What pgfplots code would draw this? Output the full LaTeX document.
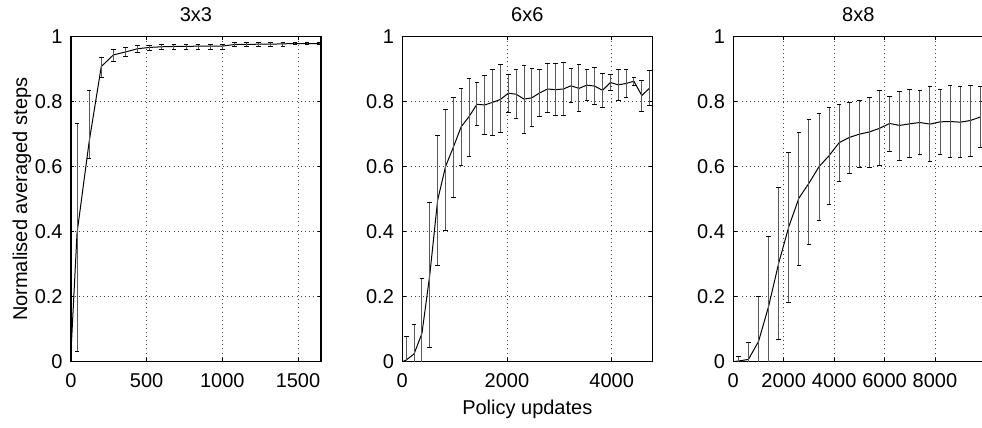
\documentclass[border=0pt]{standalone}
\usepackage{fontspec}
\setmainfont{Liberation Sans}
\usepackage{pgfplots}
\pgfplotsset{compat=1.18}
\usepackage{pgfplotstable}

% Mean curve (y) with the lower and upper ends of each error bar (lo, hi).
% Row 0 is the starting point of the curve and carries no error bar.
\pgfplotstableread{
x    y     lo     hi
0    0.030 0.030  0.030
40   0.396 0.031  0.733
120  0.677 0.624  0.833
200  0.908 0.874  0.936
280  0.944 0.923  0.960
360  0.953 0.939  0.966
440  0.963 0.952  0.972
520  0.967 0.958  0.974
600  0.969 0.962  0.976
680  0.970 0.962  0.976
760  0.970 0.962  0.977
840  0.971 0.962  0.977
920  0.971 0.962  0.977
1000 0.971 0.962  0.977
1080 0.976 0.969  0.982
1160 0.976 0.970  0.982
1240 0.977 0.971  0.982
1320 0.977 0.971  0.982
1400 0.978 0.971  0.982
1480 0.979 0.975  0.983
1560 0.979 0.975  0.983
1640 0.979 0.975  0.983
}\gridthree

\pgfplotstableread{
x    y     lo     hi
0    0.000 0.000  0.000
75   0.005 -0.070 0.077
225  0.024 -0.070 0.115
375  0.087 -0.080 0.257
525  0.267 0.044  0.489
675  0.497 0.295  0.697
825  0.600 0.405  0.776
975  0.660 0.506  0.813
1125 0.723 0.603  0.840
1275 0.754 0.631  0.872
1425 0.792 0.726  0.860
1575 0.790 0.700  0.881
1725 0.798 0.697  0.900
1875 0.807 0.704  0.915
2025 0.826 0.767  0.885
2175 0.823 0.747  0.900
2325 0.808 0.702  0.912
2475 0.812 0.725  0.902
2625 0.827 0.754  0.900
2775 0.839 0.766  0.916
2925 0.837 0.756  0.918
3075 0.839 0.756  0.922
3225 0.849 0.797  0.903
3375 0.841 0.771  0.913
3525 0.851 0.805  0.900
3675 0.848 0.791  0.905
3825 0.835 0.781  0.887
3975 0.859 0.834  0.885
4125 0.852 0.804  0.900
4275 0.856 0.814  0.900
4425 0.863 0.851  0.875
4575 0.819 0.771  0.864
4725 0.842 0.787  0.897
}\gridsix

\pgfplotstableread{
x    y     lo     hi
0    0.000 0.000  0.000
200  0.002 -0.010 0.015
600  0.007 -0.040 0.058
1000 0.062 -0.080 0.200
1400 0.170 -0.050 0.385
1800 0.303 0.067  0.536
2200 0.415 0.182  0.644
2600 0.503 0.295  0.705
3000 0.549 0.361  0.744
3400 0.600 0.434  0.764
3800 0.634 0.484  0.782
4200 0.674 0.554  0.790
4600 0.690 0.579  0.797
5000 0.700 0.596  0.805
5400 0.707 0.599  0.814
5800 0.718 0.603  0.833
6200 0.733 0.648  0.815
6600 0.727 0.619  0.831
7000 0.732 0.627  0.838
7400 0.736 0.638  0.834
7800 0.731 0.615  0.847
8200 0.738 0.638  0.838
8600 0.739 0.629  0.849
9000 0.737 0.628  0.846
9400 0.742 0.631  0.851
9800 0.753 0.659  0.846
}\grideight

\tikzset{panel title/.style={anchor=base, inner sep=0pt}}

\pgfplotsset{
  panel/.style={
    scale only axis, width=125pt, height=162.5pt,
    anchor=south west,
    clip mode=individual,
    ymin=0, ymax=1, xmin=0,
    ytick={0,0.2,0.4,0.6,0.8,1},
    yticklabels={0,0.2,0.4,0.6,0.8,1},
    scaled x ticks=false,
    grid=major,
    major grid style={black!75, line width=0.45pt, dash pattern=on 0.45pt off 1.6pt},
    tick align=inside,
    major tick length=1.6pt,
    axis line style={black, line width=0.6pt},
    every tick/.style={black, line width=0.45pt},
    xticklabel style={inner sep=0pt, anchor=north, yshift=-5.8pt},
    yticklabel style={inner sep=0pt, anchor=east, xshift=-4pt},
  },
  meanline/.style={black, line width=0.5pt, mark=none},
  bars/.style={
    draw=none, mark=none,
    skip coords between index={0}{1},
    error bars/y dir=both, error bars/y explicit,
    error bars/error bar style={draw=black!65, line width=0.5pt},
    error bars/error mark options={rotate=90, draw=black, line width=0.5pt, mark size=1.15pt},
  },
}

\begin{document}
\begin{tikzpicture}
\useasboundingbox (0,0) rectangle (491pt,214pt);

\begin{axis}[panel, at={(35.5pt,33.15pt)},
  xmax=1652,
  xtick={0,500,1000,1500}, xticklabels={0,500,1000,1500},
  ylabel={Normalised averaged steps},
  every axis y label/.style={at={(axis description cs:-0.176,0.5)}, rotate=90, anchor=base},
]
  \addplot[meanline] table[x=x, y=y] {\gridthree};
  \addplot[bars] table[x=x, y=y,
    y error plus expr=\thisrow{hi}-\thisrow{y},
    y error minus expr=\thisrow{y}-\thisrow{lo}] {\gridthree};
  \node[panel title] at (axis description cs:0.5,1.046) {3x3};
\end{axis}

\begin{axis}[panel, at={(201.15pt,33.15pt)},
  xmax=4776,
  xtick={0,2000,4000}, xticklabels={0,2000,4000},
  xlabel={Policy updates},
  every axis x label/.style={at={(axis description cs:0.5,-0.164)}, anchor=base},
]
  \addplot[meanline] table[x=x, y=y] {\gridsix};
  \addplot[bars] table[x=x, y=y,
    y error plus expr=\thisrow{hi}-\thisrow{y},
    y error minus expr=\thisrow{y}-\thisrow{lo}] {\gridsix};
  \node[panel title] at (axis description cs:0.5,1.046) {6x6};
\end{axis}

\begin{axis}[panel, at={(366.65pt,33.15pt)},
  xmax=9916,
  xtick={0,2000,4000,6000,8000}, xticklabels={0,2000,4000,6000,8000},
]
  \addplot[meanline] table[x=x, y=y] {\grideight};
  \addplot[bars] table[x=x, y=y,
    y error plus expr=\thisrow{hi}-\thisrow{y},
    y error minus expr=\thisrow{y}-\thisrow{lo}] {\grideight};
  \node[panel title] at (axis description cs:0.5,1.046) {8x8};
\end{axis}
\end{tikzpicture}
\end{document}
